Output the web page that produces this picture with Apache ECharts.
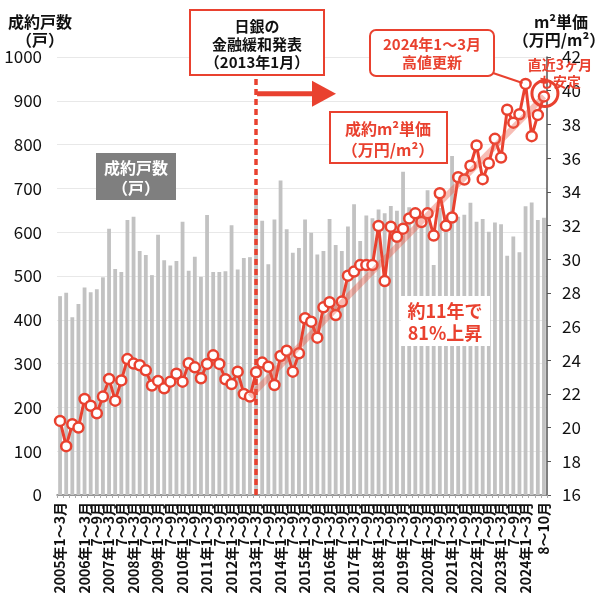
<!DOCTYPE html>
<html><head><meta charset="utf-8">
<script src="https://cdn.jsdelivr.net/npm/echarts@6/dist/echarts.min.js"></script>
<style>html,body{margin:0;padding:0;background:#fff}#c{width:600px;height:606px}</style>
</head><body><div id="c"></div>
<script>
// ---- data ----
const years = [2005,2006,2007,2008,2009,2010,2011,2012,2013,2014,2015,2016,2017,2018,2019,2020,2021,2022,2023,2024];
const quarterLabels = ['1～3月','4～6月','7～9月','10～12月'];
const lastLabel = '8～10月';
const units = [454,462,406,436,474,463,470,497,608,516,509,628,635,557,548,502,594,536,524,534,
  624,512,544,498,639,509,509,511,616,515,541,543,693,626,527,629,718,607,553,564,
  629,599,549,557,630,571,557,613,664,580,638,632,652,643,660,649,738,657,650,640,
  696,525,655,640,774,635,640,667,624,630,601,622,618,546,590,554,659,668,628,633];
const price = [20.4,18.9,20.2,20.0,21.7,21.3,20.85,21.84,22.89,21.6,22.8,24.07,23.8,23.7,23.4,22.5,22.77,22.33,22.73,23.2,
  22.73,23.82,23.58,22.93,23.78,24.29,23.78,22.87,22.59,23.32,22.0,21.84,23.28,23.86,23.62,22.53,24.25,24.57,23.32,24.41,
  26.49,26.29,25.34,27.14,27.44,26.68,27.48,29.02,29.26,29.65,29.65,29.65,31.97,28.70,31.93,31.33,31.81,32.42,32.72,32.2,
  32.72,31.4,33.91,31.98,32.47,34.86,34.73,35.55,36.75,34.75,35.69,37.14,36.03,38.87,38.1,38.6,40.4,37.3,38.56,39.66];
const trendStart = [31, 21.84];
const trendEnd = [79, 39.66];
const leftTicks = {min:0, max:1000, interval:100};
const rightTicks = {min:16, max:42, interval:2};

// categories
const categories = [];
years.forEach(y => quarterLabels.forEach((q, k) => {
  if (y === 2024 && k === 3) return;
  categories.push(k === 0 ? y + '年' + q : q);
}));
categories.push(lastLabel);
const policyIdx = categories.indexOf('2013年1～3月');
const highIdx = categories.indexOf('2024年1～3月');

const RED = '#e9412f';
const FONT = '"Noto Sans CJK JP", "Noto Sans", sans-serif';
const chart = echarts.init(document.getElementById('c'), null, {renderer:'canvas'});

chart.setOption({
  animation: false,
  textStyle: {fontFamily: FONT},
  grid: {left:57, right:53, top:57, bottom:111},
  xAxis: {
    type:'category', data: categories, boundaryGap: true,
    axisLine:{lineStyle:{color:'#777', width:1.5}},
    axisTick:{show:true, interval:0, length:3, lineStyle:{color:'#aaa'}},
    axisLabel:{rotate:90, interval:(i)=> i%2===0 || i===categories.length-1, showMinLabel:true, showMaxLabel:true,
      fontSize:14, fontWeight:'bold', color:'#111', margin:7, fontFamily:FONT}
  },
  yAxis: [
    {type:'value', min:leftTicks.min, max:leftTicks.max, interval:leftTicks.interval,
     axisLabel:{fontSize:17, color:'#111', margin:15, fontFamily:FONT, formatter:(v)=>String(v)},
     splitLine:{lineStyle:{color:'#e8e8e8', width:1}},
     axisLine:{show:false}, axisTick:{show:false}},
    {type:'value', min:rightTicks.min, max:rightTicks.max, interval:rightTicks.interval, position:'right',
     axisLabel:{fontSize:17, color:'#111', margin:15, fontFamily:FONT, formatter:(v)=>String(v)},
     splitLine:{show:false},
     axisLine:{show:true, lineStyle:{color:'#555', width:1.5}},
     axisTick:{show:true, length:4, lineStyle:{color:'#555'}}}
  ],
  series: [
    {type:'bar', data: units, barWidth:'62%', itemStyle:{color:'#c2c2c2'}, z:2,
     markLine:{silent:true, symbol:'none', label:{show:false},
       lineStyle:{color:RED, type:[6,4], width:3.5, opacity:1},
       data:[{xAxis: categories[policyIdx]}]}},
    {type:'line', yAxisIndex:1, data: price, symbol:'circle', symbolSize:10, showAllSymbol:true, z:5,
     lineStyle:{color:RED, width:3}, itemStyle:{color:'#fff', borderColor:RED, borderWidth:2.5}},
    {type:'line', yAxisIndex:1, data:[trendStart, trendEnd], symbol:'none', z:6, silent:true,
     lineStyle:{color:'rgba(236,90,70,0.4)', width:6}}
  ]
});

function px(i, v){ return chart.convertToPixel({xAxisIndex:0, yAxisIndex:1}, [i, v]); }
const pPolicy = px(policyIdx, 40);
const pHigh = px(highIdx, price[highIdx]);
const pLast = px(price.length-1, price[price.length-1]);
const arrowY = pPolicy[1] + 3;

function txt(t, x, y, size, color, weight){
  return {type:'text', z:110, style:{text:t, x:x, y:y, fill:color, textAlign:'center', textVerticalAlign:'middle',
    font:(weight||'bold') + ' ' + size + 'px ' + FONT}};
}

chart.setOption({graphic: [
  // axis titles
  txt('成約戸数', 40, 22, 16, '#111'),
  txt('（戸）', 40, 40, 16, '#111'),
  txt('m²単価', 561, 22, 16, '#111'),
  txt('（万円/m²）', 559, 40, 16, '#111'),
  // policy box
  {type:'rect', z:100, shape:{x:190, y:10, width:134, height:65}, style:{fill:'#fff', stroke:RED, lineWidth:2}},
  txt('日銀の', 257, 26, 15, '#111'),
  txt('金融緩和発表', 257, 44, 15, '#111'),
  txt('（2013年1月）', 257, 62, 15, '#111'),
  // arrow
  {type:'line', z:100, shape:{x1:pPolicy[0]+1, y1:arrowY, x2:314, y2:arrowY}, style:{stroke:RED, lineWidth:5}},
  {type:'polygon', z:100, shape:{points:[[312,arrowY-13],[336,arrowY],[312,arrowY+13]]}, style:{fill:RED}},
  // high box
  {type:'line', z:99, shape:{x1:490, y1:72, x2:pHigh[0]-3, y2:pHigh[1]-1}, style:{stroke:RED, lineWidth:2}},
  {type:'rect', z:100, shape:{x:370, y:30, width:124, height:46, r:6}, style:{fill:'#fff', stroke:RED, lineWidth:2}},
  txt('2024年1～3月', 432, 44, 15, RED),
  txt('高値更新', 432, 62, 15, RED),
  // recent
  txt('直近3ヶ月', 560, 65, 14, RED),
  txt('も安定', 560, 82, 14, RED),
  {type:'circle', z:115, shape:{cx:pLast[0]+1, cy:pLast[1]-3, r:13}, style:{fill:'none', stroke:RED, lineWidth:3}},
  // price label box
  {type:'rect', z:100, shape:{x:330, y:112, width:117, height:51}, style:{fill:'#fff', stroke:RED, lineWidth:2}},
  txt('成約m²単価', 388, 129, 16, RED),
  txt('（万円/m²）', 388, 150, 16, RED),
  // units label box
  {type:'rect', z:100, shape:{x:96, y:153, width:80, height:47}, style:{fill:'#7f7f7f'}},
  txt('成約戸数', 136, 168, 16, '#fff'),
  txt('（戸）', 136, 188, 16, '#fff'),
  // growth text
  {type:'rect', z:100, shape:{x:401, y:296, width:89, height:50}, style:{fill:'#fff'}},
  txt('約11年で', 445, 311, 18, RED),
  txt('81%上昇', 445, 333, 18, RED)
]});
</script></body></html>
